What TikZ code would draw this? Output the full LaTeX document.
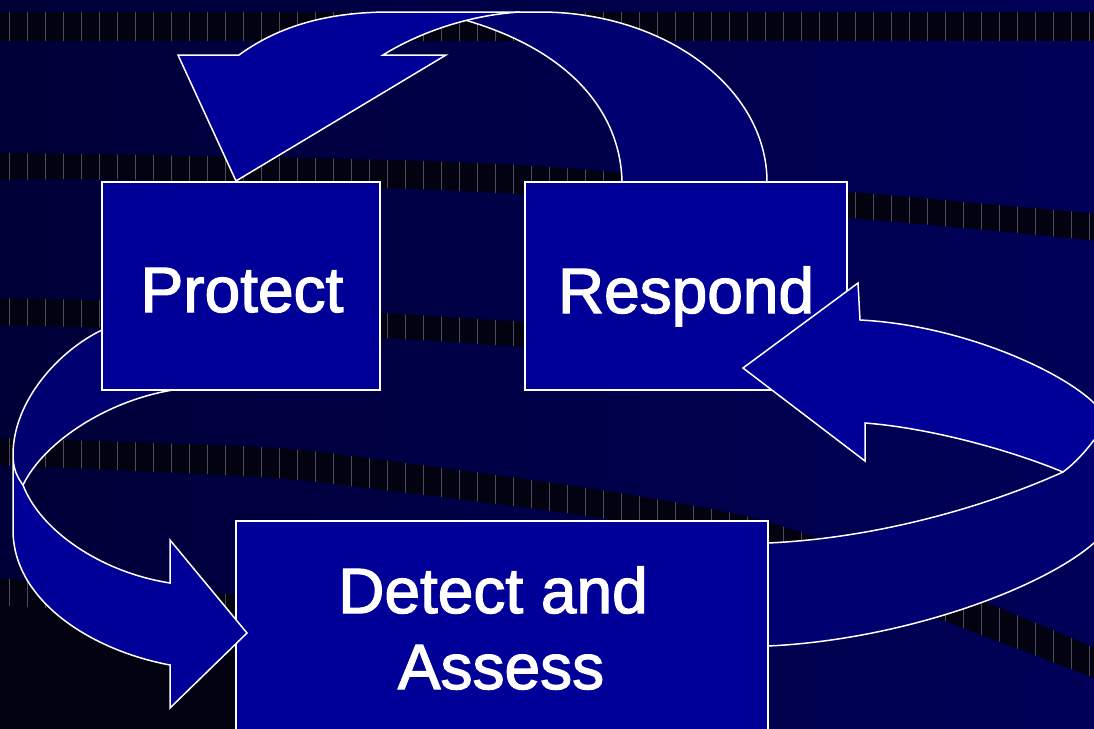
\documentclass[tikz,border=0pt]{standalone}
\usepackage{fontspec}
\setmainfont{Liberation Sans}
\newfontfamily\labelfont{Liberation Sans}[FakeBold=2]
\definecolor{navyL}{RGB}{0,0,56}
\definecolor{navyR}{RGB}{0,0,88}
\definecolor{bandblk}{RGB}{2,2,16}
\definecolor{stripec}{RGB}{75,75,95}
\definecolor{frontblue}{RGB}{0,0,153}
\definecolor{backblue}{RGB}{0,0,112}
\begin{document}
\begin{tikzpicture}[x=1pt,y=-1pt,
  box/.style={draw=white, line width=1.4pt, fill=frontblue, rectangle, inner sep=0pt},
  frontface/.style={fill=frontblue},
  backface/.style={fill=backblue},
  edgeline/.style={draw=white, line width=1.5pt, line join=miter},
  stripeline/.style={draw=stripec, line width=0.6pt},
  lbl/.style={text=white, font=\labelfont\fontsize{64}{76}\selectfont, inner sep=0pt, anchor=base}]
\useasboundingbox (0,0) rectangle (1094,728);
\clip (0,0) rectangle (1094,728);
% background
\shade[left color=navyL, right color=navyR] (-5,-5) rectangle (1100,735);
% band 1
\begin{scope}
\clip (-5,12) rectangle (1100,40);
\fill[bandblk] (-5,-5) rectangle (1100,735);
\foreach \sx in {9,27,...,1094} \draw[stripeline] (\sx,0) -- (\sx,728);
\end{scope}
% band 2
\begin{scope}
\clip plot[smooth] coordinates {(-5,153) (150,155) (500,164) (850,192) (1100,214)} -- plot[smooth] coordinates {(1100,241) (850,218) (500,193) (150,180) (-5,180)} -- cycle;
\fill[bandblk] (-5,-5) rectangle (1100,735);
\foreach \sx in {9,27,...,1094} \draw[stripeline] (\sx,0) -- (\sx,728);
\end{scope}
% band 3
\begin{scope}
\clip plot[smooth] coordinates {(-5,298) (200,303) (383,313) (525,322) (700,335)} -- plot[smooth] coordinates {(700,360) (525,347) (383,338) (200,330) (-5,325)} -- cycle;
\fill[bandblk] (-5,-5) rectangle (1100,735);
\foreach \sx in {9,27,...,1094} \draw[stripeline] (\sx,0) -- (\sx,728);
\end{scope}
% band 4
\begin{scope}
\clip plot[smooth] coordinates {(-5,438) (260,447) (383,460) (600,490) (768,522) (950,588) (1100,650)} -- plot[smooth] coordinates {(1100,680) (950,623) (768,552) (600,518) (383,490) (260,477) (-5,465)} -- cycle;
\fill[bandblk] (-5,-5) rectangle (1100,735);
\foreach \sx in {9,27,...,1094} \draw[stripeline] (\sx,0) -- (\sx,728);
\end{scope}
% bottom-left black and band 5
\fill[bandblk] plot[smooth] coordinates {(-5,578) (260,597) (520,628)} -- (520,740) -- (-5,740) -- cycle;
\begin{scope}
\clip plot[smooth] coordinates {(-5,578) (260,597) (520,628)} -- plot[smooth] coordinates {(520,652) (260,623) (-5,605)} -- cycle;
\foreach \sx in {9,27,...,1094} \draw[stripeline] (\sx,0) -- (\sx,728);
\end{scope}

% back faces of the three ribbon arrows
\fill[backface] (515,12) -- (540,12) .. controls (665,12) and (767,88) .. (767,182) -- (622,182) .. controls (621,125) and (585,55) .. (465,20) -- cycle;
\fill[backface] (102,330) .. controls (60,350) and (13,400) .. (13,455) .. controls (13,470) and (18,478) .. (23,485) .. controls (45,440) and (110,400) .. (173,390) -- (200,330) -- cycle;
\fill[backface] (768,543) .. controls (880,538) and (990,505) .. (1063,472) .. controls (1075,463) and (1085,452) .. (1094,440) -- (1110,440) -- (1110,543) -- (1094,543) .. controls (1040,590) and (900,640) .. (768,646) -- cycle;
\draw[edgeline] (515,12) -- (540,12) .. controls (665,12) and (767,88) .. (767,182);
\draw[edgeline] (622,182) .. controls (621,125) and (585,55) .. (465,20);
\draw[edgeline] (102,330) .. controls (60,350) and (13,400) .. (13,455);
\draw[edgeline] (23,485) .. controls (45,440) and (110,400) .. (173,390);
\draw[edgeline] (768,543) .. controls (880,538) and (990,505) .. (1063,472);
\draw[edgeline] (768,646) .. controls (900,640) and (1040,590) .. (1094,543) -- (1110,520);

% boxes
\node[box, minimum width=278, minimum height=208] (protect) at (241,286) {};
\node[box, minimum width=322, minimum height=208] (respond) at (686,286) {};
\node[box, minimum width=532, minimum height=240] (detect) at (502,641) {};

% front faces
\path[frontface, edgeline] (178,55) -- (239,55) .. controls (280,25) and (330,12) .. (390,12) -- (520,12) .. controls (470,15) and (420,32) .. (383,55) -- (446,55) -- (236,181) -- cycle;
\path[frontface, edgeline] (23,485) .. controls (40,530) and (100,572) .. (170,583) -- (170,540) -- (247,633) -- (170,708) -- (170,665) .. controls (90,650) and (13,600) .. (13,530) -- (13,455) .. controls (13,470) and (18,478) .. (23,485) -- cycle;
\path[frontface, edgeline] (865,423) -- (865,461) -- (743,368) -- (858,283) -- (860,320) .. controls (960,325) and (1060,370) .. (1094,403) -- (1110,420) -- (1110,440) -- (1094,440) .. controls (1085,452) and (1075,463) .. (1063,472) .. controls (1010,450) and (930,428) .. (865,423) -- cycle;

% labels
\node[lbl] (protectlabel) at (242,312) {Protect};
\node[lbl] (respondlabel) at (686,313) {Respond};
\node[lbl] (detectlabel) at (493,613) {Detect and};
\node[lbl] (assesslabel) at (501,689) {Assess};
\end{tikzpicture}
\end{document}
